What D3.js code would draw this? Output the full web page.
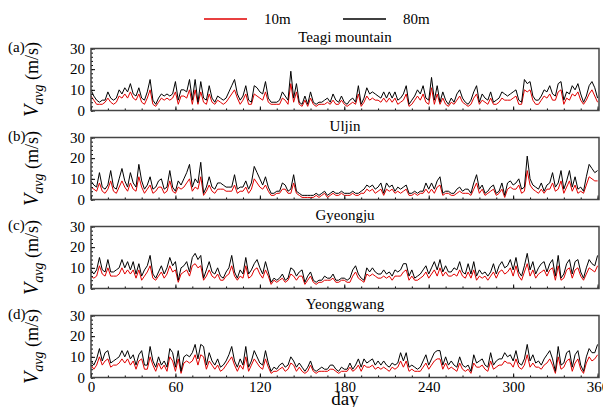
<!DOCTYPE html>
<html>
<head>
<meta charset="utf-8">
<script src="https://cdn.jsdelivr.net/npm/d3@7/dist/d3.min.js"></script>
<style>
  body { margin: 0; background: #fff; }
  svg text { font-family: "Liberation Serif", "Times New Roman", Times, serif; }
</style>
</head>
<body>
<svg></svg>
<script>
const SITES = ["Teagi mountain", "Uljin", "Gyeongju", "Yeonggwang"];
const LETTERS = ["(a)", "(b)", "(c)", "(d)"];
const SERIES = ["10m", "80m"];
const SERIES_COLORS = ["#e00000", "#000000"];
const X_TICKS = [0, 60, 120, 180, 240, 300, 360];
const Y_TICKS = [0, 10, 20, 30];
const SERIF = "Liberation Serif, Times New Roman, serif";

// every second day of the year
const DAYS = d3.range(0, 361, 2);

const TEAGI_80 = [10,7,5,4,5,5,9,6,5,6, 10,8,11,9,13,8,7,11,6,5, 9,15,5,3,6,8,7,8,7,8,
  14,5,10,10,9,15,5,15,4,14, 6,5,12,6,4,7,6,5,6,9, 12,15,8,5,7,12,5,4,12,11,
  9,8,14,6,4,4,4,5,9,7, 5,19,6,13,4,3,7,3,9,4, 3,4,4,5,6,4,8,5,4,7,
  4,3,5,6,4,12,3,6,11,8, 9,8,7,6,9,6,9,6,9,5, 6,8,12,3,5,7,10,8,12,6,
  5,16,5,12,4,9,5,3,6,4, 8,10,6,4,3,5,9,12,4,8, 6,5,9,4,5,6,9,8,7,8,
  9,10,5,4,15,13,14,7,5,5, 7,10,9,12,8,7,13,14,5,9, 8,12,10,13,8,4,7,12,14,11, 6];
const TEAGI_10 = [7,5,3,3,3,4,6,4,3,4, 7,6,8,6,9,6,5,8,4,3, 6,10,3,2,4,6,5,6,5,6,
  9,3,7,7,6,10,3,10,3,9, 4,3,8,4,3,5,4,3,4,6, 8,10,6,3,5,8,3,3,8,7,
  6,5,9,4,3,3,3,3,6,5, 3,13,4,9,3,2,5,2,6,3, 2,3,3,3,4,3,5,3,3,5,
  3,2,3,4,3,8,2,4,7,5, 6,5,5,4,6,4,6,4,6,3, 4,5,8,2,3,5,7,5,8,4,
  3,11,3,8,3,6,3,2,4,3, 5,7,4,3,2,3,6,8,3,5, 4,3,6,3,3,4,6,5,5,5,
  6,7,3,3,10,9,10,5,3,3, 5,7,6,8,5,5,9,10,3,6, 5,8,7,9,5,3,5,8,10,7, 4];

const ULJIN_80 = [9,7,6,13,6,5,7,14,6,5, 10,15,9,6,13,8,6,17,9,5, 7,11,5,6,9,10,5,6,14,6,
  4,9,7,10,13,17,6,10,8,18, 3,6,11,6,5,8,8,7,6,6, 6,12,5,6,6,9,5,8,16,13,
  10,7,11,6,3,3,4,4,8,7, 4,5,12,4,3,2,2,2,2,2, 3,2,3,4,2,3,4,3,3,4,
  3,3,3,4,3,3,4,5,7,6, 7,5,6,8,3,8,6,7,4,6, 5,6,7,3,3,4,3,4,4,8,
  5,8,5,9,11,3,4,4,3,3, 5,6,4,5,5,3,8,12,5,7, 3,4,6,7,3,4,8,2,8,9,
  7,8,10,5,6,21,10,7,6,5, 8,4,7,8,13,6,8,14,5,9, 14,6,11,5,6,4,11,17,15,13, 14];
const ULJIN_10 = [6,5,4,8,4,3,5,9,4,3, 6,9,6,4,8,5,4,11,6,3, 5,7,3,4,6,6,3,4,9,4,
  3,6,5,6,8,10,4,6,5,11, 2,4,7,4,3,5,5,5,4,4, 4,7,3,4,4,6,3,5,10,8,
  6,5,7,4,2,2,3,3,5,5, 3,3,8,3,2,1,1,1,1,1, 2,1,2,3,1,2,3,2,2,3,
  2,2,2,3,2,2,3,3,5,4, 5,3,4,5,2,5,4,5,3,4, 3,4,5,2,2,3,2,3,3,5,
  3,5,3,6,7,2,3,3,2,2, 3,4,3,3,3,2,5,8,3,5, 2,3,4,5,2,3,5,1,5,6,
  5,5,7,3,4,14,7,5,4,3, 5,3,5,5,8,4,5,9,3,6, 9,4,7,3,4,3,7,11,10,9, 9];

const GYEONGJU_80 = [9,7,9,15,9,8,14,8,8,9, 10,14,10,13,9,13,7,12,6,9, 11,16,7,5,8,11,7,10,15,11,
  13,4,10,11,13,8,15,17,14,16, 5,9,13,8,7,10,6,5,8,10, 16,8,5,9,7,15,7,9,12,14,
  10,7,13,8,3,5,4,5,7,4, 5,10,9,6,8,9,3,6,8,4, 3,4,4,6,5,5,7,4,4,5,
  5,4,5,9,11,7,5,4,10,8, 10,8,7,7,9,7,8,6,9,8, 9,12,12,6,9,5,6,7,9,11,
  7,10,13,9,14,8,11,8,8,10, 9,13,8,7,12,7,13,6,9,7, 8,6,8,12,7,11,13,10,11,14,
  9,15,8,6,11,17,9,13,7,10, 12,13,8,12,14,6,16,5,7,12, 14,7,13,14,8,5,10,14,12,11, 16];
const GYEONGJU_10 = [6,5,6,11,7,6,10,6,6,6, 7,10,7,9,7,9,5,9,4,6, 8,11,5,4,6,8,5,7,11,8,
  9,3,7,8,9,6,11,12,10,11, 4,6,9,6,5,7,4,4,6,7, 11,6,4,6,5,11,5,6,9,10,
  7,5,9,6,2,4,3,4,5,3, 4,7,6,4,6,6,2,4,6,3, 2,3,3,4,4,4,5,3,3,4,
  4,3,3,6,8,5,4,3,7,6, 7,6,5,5,6,5,6,4,6,6, 6,8,9,4,6,4,4,5,6,8,
  5,7,9,6,10,6,8,6,6,7, 6,9,6,5,8,5,9,4,6,5, 6,4,6,8,5,8,9,7,8,10,
  6,11,6,4,8,12,6,9,5,7, 8,9,6,9,10,4,11,4,5,9, 10,5,9,10,6,4,7,10,9,8, 11];

const YEONGGWANG_80 = [8,6,9,14,8,12,13,7,8,9, 10,13,10,13,9,11,6,11,13,6, 6,15,8,5,10,6,8,5,14,12,
  5,13,3,10,11,10,12,16,9,16, 15,6,12,8,6,9,5,6,8,11, 15,8,5,9,6,15,5,8,13,10,
  7,6,13,7,3,5,4,6,7,5, 6,10,8,5,7,5,3,5,8,4, 3,4,5,4,4,6,6,4,3,5,
  4,4,7,4,6,9,5,9,7,8, 9,6,8,6,8,6,5,7,6,7, 12,8,12,5,6,5,4,5,8,11,
  6,9,12,13,13,6,10,6,8,6, 5,10,6,5,6,3,11,7,8,9, 6,5,12,6,8,9,9,12,10,11,
  8,13,7,6,9,16,8,11,7,8, 6,9,11,13,9,3,15,6,7,12, 13,5,11,13,6,3,10,14,12,12, 16];
const YEONGGWANG_10 = [6,4,6,10,6,8,9,5,6,6, 7,9,7,9,6,8,4,8,9,4, 4,10,6,3,7,4,6,3,10,8,
  3,9,2,7,8,7,8,11,6,11, 10,4,8,6,4,6,3,4,6,8, 10,6,3,6,4,10,3,6,9,7,
  5,4,9,5,2,3,3,4,5,3, 4,7,6,3,5,3,2,3,6,3, 2,3,3,3,3,4,4,3,2,3,
  3,3,5,3,4,6,3,6,5,5, 6,4,5,4,5,4,3,5,4,5, 8,5,8,3,4,3,3,3,5,7,
  4,6,8,9,9,4,7,4,5,4, 3,7,4,3,4,2,7,5,5,6, 4,3,8,4,5,6,6,8,7,7,
  5,9,5,4,6,11,5,7,5,5, 4,6,7,9,6,2,10,4,5,8, 9,3,7,9,4,2,7,10,8,9, 11];

const PANEL_DATA = [
  [TEAGI_10, TEAGI_80],
  [ULJIN_10, ULJIN_80],
  [GYEONGJU_10, GYEONGJU_80],
  [YEONGGWANG_10, YEONGGWANG_80],
];

const WIDTH = 603;
const HEIGHT = 407;
const LEFT = 91;
const RIGHT = 599;
const PANEL_TOP = 48.5;
const PANEL_STEP = 89;
const PANEL_HEIGHT = 62;

const svg = d3.select("svg")
  .attr("width", WIDTH)
  .attr("height", HEIGHT)
  .attr("font-family", SERIF);

const x = d3.scaleLinear()
  .domain([0, 361])
  .range([LEFT, RIGHT]);

const y = d3.scaleLinear()
  .domain([0, 30])
  .range([PANEL_HEIGHT, 0]);

const line = d3.line()
  .x((d, i) => x(DAYS[i]))
  .y(d => y(d));

// legend
const legend = svg.append("g");
const legendX = [204, 343];
SERIES.forEach((name, i) => {
  legend.append("line")
    .attr("x1", legendX[i]).attr("x2", legendX[i] + 43)
    .attr("y1", 19).attr("y2", 19)
    .attr("stroke", SERIES_COLORS[i])
    .attr("stroke-width", 1.3);
  legend.append("text")
    .attr("x", legendX[i] + 60)
    .attr("y", 24)
    .attr("font-size", 15)
    .text(name);
});

PANEL_DATA.forEach((series, p) => {
  const top = PANEL_TOP + p * PANEL_STEP;
  const panel = svg.append("g").attr("transform", `translate(0, ${top})`);

  panel.append("text")
    .attr("x", (LEFT + RIGHT) / 2)
    .attr("y", -7)
    .attr("text-anchor", "middle")
    .attr("font-size", 15)
    .text(SITES[p]);

  panel.append("text")
    .attr("x", 8)
    .attr("y", 3.5)
    .attr("font-size", 15)
    .text(LETTERS[p]);

  // y label, rotated
  const yl = panel.append("text")
    .attr("transform", `translate(38, ${PANEL_HEIGHT / 2}) rotate(-90)`)
    .attr("text-anchor", "middle");
  yl.append("tspan").attr("font-style", "italic").attr("font-size", 20).text("V");
  yl.append("tspan").attr("font-style", "italic").attr("font-size", 14).attr("dy", 5).text("avg");
  yl.append("tspan").attr("font-size", 18).attr("dy", -5).text(" (m/s)");

  // lines: 10m under 80m
  series.forEach((vals, s) => {
    panel.append("path")
      .datum(vals)
      .attr("fill", "none")
      .attr("stroke", SERIES_COLORS[s])
      .attr("stroke-width", 1)
      .attr("stroke-linejoin", "round")
      .attr("d", line);
  });

  // minor ticks
  panel.append("g")
    .attr("transform", `translate(${LEFT}, 0)`)
    .call(d3.axisLeft(y).tickValues(d3.range(0, 31, 2)).tickSize(-2).tickFormat(""))
    .call(g => g.select(".domain").remove());
  panel.append("g")
    .attr("transform", `translate(0, ${PANEL_HEIGHT})`)
    .call(d3.axisBottom(x).tickValues(d3.range(0, 361, 12)).tickSize(-2).tickFormat(""))
    .call(g => g.select(".domain").remove());

  // major ticks
  panel.append("g")
    .attr("transform", `translate(${LEFT}, 0)`)
    .call(d3.axisLeft(y).tickValues(Y_TICKS).tickSize(-4).tickPadding(6))
    .attr("font-family", SERIF)
    .attr("font-size", 15)
    .call(g => g.select(".domain").remove())
    .call(g => g.selectAll("text").attr("fill", "#000"));

  const xAxis = panel.append("g")
    .attr("transform", `translate(0, ${PANEL_HEIGHT})`)
    .call(d3.axisBottom(x).tickValues(X_TICKS).tickSize(-4).tickPadding(4))
    .attr("font-family", SERIF)
    .attr("font-size", 15)
    .call(g => g.select(".domain").remove())
    .call(g => g.selectAll("text").attr("fill", "#000"));
  if (p < PANEL_DATA.length - 1) xAxis.selectAll("text").remove();

  panel.append("rect")
    .attr("x", LEFT)
    .attr("y", 0)
    .attr("width", RIGHT - LEFT)
    .attr("height", PANEL_HEIGHT)
    .attr("fill", "none")
    .attr("stroke", "#444")
    .attr("stroke-width", 1.5);
});

svg.append("text")
  .attr("x", (LEFT + RIGHT) / 2)
  .attr("y", 405)
  .attr("text-anchor", "middle")
  .attr("font-size", 19)
  .text("day");
</script>
</body>
</html>
